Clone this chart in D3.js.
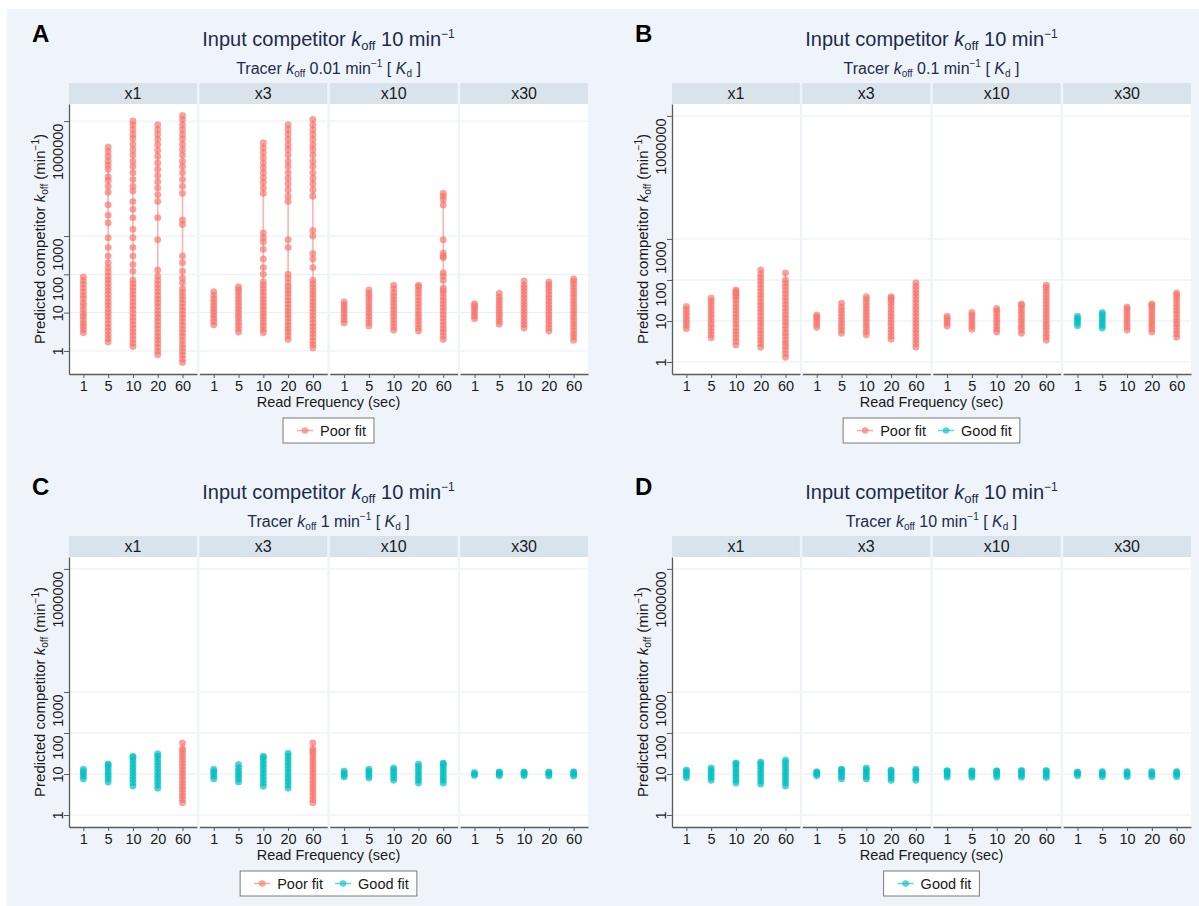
<!DOCTYPE html>
<html>
<head>
<meta charset="utf-8">
<script src="https://cdn.jsdelivr.net/npm/d3@7"></script>
<style>
  body { margin: 0; background: #ffffff; }
  text { font-family: "Liberation Sans", Arial, Helvetica, sans-serif; }
</style>
</head>
<body>
<svg id="fig" width="1199" height="906"></svg>
<script>
// ---- categories and labels ----
const freqs = ["1", "5", "10", "20", "60"];
const facets = ["x1", "x3", "x10", "x30"];
const yTickValues = [1, 10, 100, 1000, 1000000];
const fitLabels = ["Poor fit", "Good fit"];
const fitColors = ["#f8766d", "#00bfc4"];
const panelLetters = ["A", "B", "C", "D"];
const tracerKoff = ["0.01", "0.1", "1", "10"];
const inputKoff = "10";

// ---- predicted competitor koff (min^-1), one array per read frequency ----
// Panel A: tracer koff 0.01
const A_x1 = [
  [3.0, 3.6, 4.4, 5.3, 6.5, 8.0, 9.6, 12, 15, 18, 23, 28, 35, 44, 55, 68, 85],
  [1.7, 2.1, 2.6, 3.3, 4.1, 5.1, 6.4, 8, 10, 12.5, 15.5, 19, 24, 30, 37, 46, 58, 72, 90, 115, 150, 200, 300, 500, 900, 2200, 3500, 6500, 14000, 20000, 28000, 35000, 55000, 70000, 90000, 120000, 160000, 210000],
  [1.3, 1.6, 2.0, 2.5, 3.1, 3.9, 4.9, 6.1, 7.6, 9.5, 12, 15, 19, 24, 30, 37, 46, 57, 71, 120, 180, 300, 500, 900, 1500, 3000, 5000, 8000, 15000, 20000, 30000, 45000, 65000, 90000, 130000, 180000, 250000, 350000, 450000, 600000, 800000, 1000000],
  [0.8, 1.0, 1.25, 1.55, 1.95, 2.4, 3.0, 3.8, 4.7, 5.9, 7.4, 9.2, 11.5, 14.5, 18, 22.5, 28, 35, 44, 55, 70, 90, 130, 800, 3000, 8000, 12000, 18000, 26000, 38000, 55000, 80000, 120000, 170000, 240000, 330000, 450000, 600000, 800000],
  [0.5, 0.62, 0.78, 0.97, 1.2, 1.5, 1.9, 2.4, 3.0, 3.7, 4.6, 5.8, 7.2, 9, 11.3, 14, 17.5, 22, 27, 34, 42, 60, 80, 120, 200, 300, 2000, 2600, 13000, 20000, 30000, 45000, 65000, 90000, 130000, 180000, 250000, 340000, 450000, 600000, 800000, 1100000, 1400000]
];
const A_x3 = [
  [4.8, 5.8, 7.0, 8.5, 10.3, 12.5, 15, 18.5, 22.5, 28, 35],
  [3.1, 3.8, 4.6, 5.6, 6.8, 8.3, 10, 12.3, 15, 18.5, 22.5, 27.5, 33.5, 40, 47],
  [3.0, 3.7, 4.5, 5.5, 6.7, 8.2, 10, 12.3, 15, 18.5, 22.5, 27.5, 34, 42, 52, 64, 100, 150, 250, 450, 700, 900, 1200, 13000, 18000, 25000, 33000, 45000, 60000, 80000, 110000, 150000, 200000, 270000],
  [2.0, 2.5, 3.1, 3.8, 4.7, 5.8, 7.2, 8.9, 11, 13.6, 16.8, 20.8, 25.7, 32, 39, 48, 60, 80, 100, 500, 800, 8000, 11000, 16000, 23000, 32000, 45000, 65000, 90000, 130000, 180000, 240000, 330000, 450000, 600000, 800000],
  [1.2, 1.5, 1.85, 2.3, 2.85, 3.5, 4.35, 5.4, 6.7, 8.3, 10.3, 12.8, 15.8, 19.6, 24.3, 30, 37, 46, 57, 70, 150, 250, 350, 1000, 1400, 11000, 16000, 23000, 32000, 45000, 65000, 90000, 130000, 180000, 240000, 330000, 450000, 600000, 800000, 1100000]
];
const A_x10 = [
  [5.4, 6.5, 7.8, 9.4, 11.3, 13.5, 16, 19],
  [4.5, 5.5, 6.7, 8.2, 10, 12.2, 14.9, 18.2, 22.2, 27, 32, 39],
  [3.5, 4.3, 5.3, 6.5, 8, 9.8, 12, 14.7, 18, 22, 27, 33, 42, 52],
  [3.3, 4.0, 4.9, 6.0, 7.4, 9.1, 11.2, 13.8, 17, 20.8, 25.6, 31.5, 38.7, 47, 52],
  [2.0, 2.5, 3.1, 3.8, 4.7, 5.8, 7.2, 8.9, 11, 13.6, 16.8, 20.8, 25.7, 32, 38, 44, 70, 90, 110, 270, 300, 360, 800, 6500, 9000, 11000, 13000]
];
const A_x30 = [
  [6.9, 8.1, 9.5, 11.2, 13.2, 15, 17],
  [5.0, 6.0, 7.2, 8.6, 10.3, 12.4, 14.8, 17.8, 21.3, 25.6, 32],
  [4.0, 4.9, 6.0, 7.3, 8.9, 10.9, 13.3, 16.2, 19.8, 24.2, 29.5, 36, 44, 52, 67],
  [3.3, 4.0, 4.9, 6.0, 7.3, 8.9, 10.9, 13.3, 16.2, 19.8, 24.2, 29.5, 36, 44, 53, 63],
  [1.9, 2.3, 2.8, 3.4, 4.2, 5.1, 6.2, 7.6, 9.3, 11.3, 13.8, 16.8, 20.5, 25, 30.5, 37, 45, 55, 66, 76]
];
const A_fit = [[0,0,0,0,0],[0,0,0,0,0],[0,0,0,0,0],[0,0,0,0,0]];

// Panel B: tracer koff 0.1
const B_x1 = [
  [6.5, 7.8, 9.3, 11.1, 13.3, 15.9, 19, 22.5],
  [3.9, 4.7, 5.7, 6.9, 8.3, 10, 12.1, 14.6, 17.6, 21.2, 25.6, 30.8, 36],
  [2.6, 3.2, 3.9, 4.7, 5.7, 6.9, 8.4, 10.2, 12.4, 15, 18.2, 22, 26.7, 32, 38, 42, 47, 52, 57],
  [2.3, 2.8, 3.4, 4.1, 5.0, 6.1, 7.4, 9.0, 10.9, 13.3, 16.2, 19.7, 24, 29, 35.5, 43, 52, 64, 78, 95, 115, 140, 175],
  [1.3, 1.6, 1.95, 2.4, 2.9, 3.5, 4.3, 5.2, 6.4, 7.8, 9.5, 11.6, 14.1, 17.2, 21, 25.6, 31, 38, 46, 56, 68, 83, 100, 148]
];
const B_x3 = [
  [7.0, 8.2, 9.6, 11.2, 12.5, 14],
  [5.0, 6.0, 7.2, 8.7, 10.4, 12.5, 15, 18, 21.6, 27],
  [4.6, 5.5, 6.6, 7.9, 9.5, 11.4, 13.7, 16.4, 19.7, 23.6, 28.3, 34, 39],
  [3.6, 4.3, 5.2, 6.2, 7.5, 9.0, 10.8, 13, 15.6, 18.7, 22.4, 27, 32, 36, 39],
  [2.3, 2.8, 3.4, 4.1, 5.0, 6.0, 7.3, 8.8, 10.6, 12.8, 15.5, 18.7, 22.6, 27.3, 33, 40, 48, 58, 70, 85]
];
const B_x10 = [
  [7.6, 8.8, 10.2, 11.7, 13],
  [6.3, 7.4, 8.7, 10.2, 12, 14, 16],
  [5.4, 6.4, 7.6, 9, 10.7, 12.7, 15, 17.7, 20],
  [5.0, 6.0, 7.1, 8.5, 10.1, 12, 14.3, 17, 20.2, 24, 26],
  [3.4, 4.1, 4.9, 5.9, 7.1, 8.5, 10.2, 12.3, 14.8, 17.8, 21.4, 25.7, 31, 37, 45, 54, 65, 75]
];
const B_x30 = [
  [7.7, 8.9, 10.2, 11.6, 13],
  [6.7, 7.8, 9.1, 10.6, 12.3, 14.3, 16],
  [6.0, 7.1, 8.4, 10, 11.8, 14, 16.6, 19.6, 22],
  [5.4, 6.4, 7.6, 9, 10.7, 12.7, 15.1, 17.9, 21.3, 24, 26],
  [4.0, 4.8, 5.8, 7.0, 8.4, 10.1, 12.2, 14.7, 17.7, 21.3, 25.6, 31, 37, 43, 48]
];
const B_fit = [[0,0,0,0,0],[0,0,0,0,0],[0,0,0,0,0],[1,1,0,0,0]];

// Panel C: tracer koff 1
const C_x1 = [
  [7.6, 8.8, 10.1, 11.5, 13],
  [6.4, 7.5, 8.8, 10.3, 12, 14.1, 16.5, 17.5],
  [5.1, 6.1, 7.3, 8.7, 10.4, 12.4, 14.8, 17.7, 21.1, 25, 27],
  [4.5, 5.4, 6.5, 7.8, 9.3, 11.2, 13.4, 16, 19.2, 23, 27.5, 31],
  [2.0, 2.4, 2.9, 3.5, 4.2, 5.0, 6.0, 7.2, 8.7, 10.4, 12.5, 15, 18, 21.6, 26, 31, 37, 41, 57]
];
const C_x3 = [
  [7.6, 8.8, 10.1, 11.5, 13],
  [6.4, 7.5, 8.8, 10.3, 12, 14.1, 17],
  [5.0, 6.0, 7.2, 8.6, 10.3, 12.3, 14.7, 17.6, 21, 25, 27],
  [4.5, 5.4, 6.5, 7.8, 9.3, 11.2, 13.4, 16, 19.2, 23, 27.5, 32],
  [2.0, 2.4, 2.9, 3.5, 4.2, 5.0, 6.0, 7.2, 8.7, 10.4, 12.5, 15, 18, 21.6, 26, 31, 36, 41, 57]
];
const C_x10 = [
  [8.5, 9.5, 10.6, 11.8],
  [8.0, 9.1, 10.4, 11.8, 13],
  [7.0, 8.1, 9.4, 10.9, 12.6, 14],
  [6.0, 7.0, 8.2, 9.6, 11.2, 13.1, 15.3, 17.5],
  [6.0, 7.0, 8.2, 9.6, 11.2, 13.1, 15.3, 17.5, 18.5]
];
const C_x30 = [
  [9.2, 10, 10.9],
  [9, 9.9, 10.9, 11.2],
  [9, 9.9, 10.9, 11.2],
  [8.9, 9.8, 10.8, 11.2],
  [8.9, 9.8, 10.8, 11.3]
];
const C_fit = [[1,1,1,1,0],[1,1,1,1,0],[1,1,1,1,1],[1,1,1,1,1]];

// Panel D: tracer koff 10
const D_x1 = [
  [8.1, 9.2, 10.4, 11.6, 12.5],
  [7.0, 8.1, 9.4, 10.9, 12.6, 14],
  [6.0, 7.0, 8.2, 9.6, 11.2, 13.1, 15.3, 17.8, 18.5],
  [5.7, 6.7, 7.9, 9.3, 10.9, 12.8, 15, 17.6, 19.5],
  [5.1, 6.0, 7.1, 8.4, 9.9, 11.7, 13.8, 16.3, 19.2, 22]
];
const D_x3 = [
  [9, 9.9, 10.9, 11.3],
  [7.6, 8.6, 9.8, 11.1, 12.6, 13],
  [7.6, 8.6, 9.8, 11.1, 12.6, 14],
  [7.0, 8.0, 9.1, 10.4, 11.8, 12.5],
  [7.0, 8.0, 9.2, 10.5, 12, 13]
];
const D_x10 = [
  [8.3, 9.3, 10.5, 11.8, 12],
  [8.3, 9.3, 10.4, 11.7, 12],
  [8.3, 9.4, 10.5, 11.7, 12],
  [8.3, 9.3, 10.5, 11.8, 12.2],
  [8.2, 9.2, 10.4, 11.7, 12.1]
];
const D_x30 = [
  [9, 9.9, 10.9, 11.2],
  [8.6, 9.6, 10.7, 11.5],
  [8.6, 9.6, 10.7, 11.5],
  [8.6, 9.6, 10.7, 11.5],
  [8.6, 9.6, 10.7, 11.5]
];
const D_fit = [[1,1,1,1,1],[1,1,1,1,1],[1,1,1,1,1],[1,1,1,1,1]];

// ---- panel set-up ----
const panels = [
  { letter: panelLetters[0], tracer: tracerKoff[0], dx: 0,   dy: 0,   yDomain: [0.25, 2.8e6],  cols: [A_x1, A_x3, A_x10, A_x30], fit: A_fit, legend: [0] },
  { letter: panelLetters[1], tracer: tracerKoff[1], dx: 603, dy: 0,   yDomain: [0.51, 1.95e6], cols: [B_x1, B_x3, B_x10, B_x30], fit: B_fit, legend: [0, 1] },
  { letter: panelLetters[2], tracer: tracerKoff[2], dx: 0,   dy: 453, yDomain: [0.51, 1.95e6], cols: [C_x1, C_x3, C_x10, C_x30], fit: C_fit, legend: [0, 1] },
  { letter: panelLetters[3], tracer: tracerKoff[3], dx: 603, dy: 453, yDomain: [0.51, 1.95e6], cols: [D_x1, D_x3, D_x10, D_x30], fit: D_fit, legend: [1] }
];

const L = { left: 69, right: 588, top: 104, bottom: 374, stripTop: 83, gap: 2.5 };
const facetW = (L.right - L.left - 3 * L.gap) / 4;
const midX = (L.left + L.right) / 2;
const axisColor = "#5b5b5b";
const textColor = "#1a1a1a";
const titleColor = "#1d2b4c";

const svg = d3.select("#fig");

// figure background
svg.append("rect").attr("x", 7).attr("y", 9).attr("width", 1192).attr("height", 897).attr("fill", "#eef4f9");

const xScale = d3.scalePoint().domain(freqs).range([0, facetW]).padding(0.58);

panels.forEach(p => {
  const g = svg.append("g").attr("transform", `translate(${p.dx},${p.dy})`);
  const y = d3.scaleLog().domain(p.yDomain).range([L.bottom, L.top]);

  // panel letter
  g.append("text").attr("x", 32).attr("y", 42)
    .attr("font-size", 24).attr("font-weight", "bold").attr("fill", "#000")
    .text(p.letter);

  // title
  const t = g.append("text").attr("x", midX).attr("y", 46).attr("text-anchor", "middle")
    .attr("font-size", 20).attr("fill", titleColor);
  t.append("tspan").text("Input competitor ");
  t.append("tspan").attr("font-style", "italic").text("k");
  t.append("tspan").attr("font-size", 13).attr("dy", 4).text("off");
  t.append("tspan").attr("dy", -4).text(" " + inputKoff + " min");
  t.append("tspan").attr("font-size", 12).attr("dy", -8).text("\u22121");

  // subtitle
  const s = g.append("text").attr("x", midX).attr("y", 74).attr("text-anchor", "middle")
    .attr("font-size", 16).attr("fill", titleColor);
  s.append("tspan").text("Tracer ");
  s.append("tspan").attr("font-style", "italic").text("k");
  s.append("tspan").attr("font-size", 10).attr("dy", 3).text("off");
  s.append("tspan").attr("dy", -3).text(" " + p.tracer + " min");
  s.append("tspan").attr("font-size", 10).attr("dy", -7).text("\u22121");
  s.append("tspan").attr("dy", 7).text(" [ ");
  s.append("tspan").attr("font-style", "italic").text("K");
  s.append("tspan").attr("font-size", 10).attr("dy", 3).text("d");
  s.append("tspan").attr("dy", -3).text(" ]");

  facets.forEach((f, i) => {
    const fx = L.left + i * (facetW + L.gap);
    const fg = g.append("g").attr("transform", `translate(${fx},0)`);

    // strip
    fg.append("rect").attr("x", 0).attr("y", L.stripTop).attr("width", facetW)
      .attr("height", L.top - L.stripTop).attr("fill", "#d9e3eb");
    fg.append("text").attr("x", facetW / 2).attr("y", L.top - 5).attr("text-anchor", "middle")
      .attr("font-size", 16).attr("fill", textColor).text(f);

    // plot region
    fg.append("rect").attr("x", 0).attr("y", L.top).attr("width", facetW)
      .attr("height", L.bottom - L.top).attr("fill", "#ffffff");

    // grid lines
    fg.selectAll("line.grid").data(yTickValues).join("line").attr("class", "grid")
      .attr("x1", 0).attr("x2", facetW)
      .attr("y1", d => y(d)).attr("y2", d => y(d))
      .attr("stroke", "#e6eef5").attr("stroke-width", 1);

    // columns of estimates
    freqs.forEach((fr, j) => {
      const vals = p.cols[i][j].slice().sort((a, b) => a - b);
      const col = fitColors[p.fit[i][j]];
      const cx = xScale(fr);
      fg.append("path")
        .attr("d", d3.line().x(() => cx).y(d => y(d))(vals))
        .attr("fill", "none").attr("stroke", col).attr("stroke-width", 1.6).attr("stroke-opacity", 0.55);
      fg.selectAll(null).data(vals).join("circle")
        .attr("cx", cx).attr("cy", d => y(d)).attr("r", 3.3)
        .attr("fill", col).attr("fill-opacity", 0.68)
        .attr("stroke", col).attr("stroke-opacity", 0.3).attr("stroke-width", 0.6);
    });

    // x axis
    const xa = fg.append("g").attr("transform", `translate(0,${L.bottom})`)
      .call(d3.axisBottom(xScale).tickSize(4).tickSizeOuter(0));
    xa.select(".domain").attr("stroke", axisColor).attr("stroke-width", 1.3);
    xa.selectAll(".tick line").attr("stroke", axisColor);
    xa.selectAll(".tick text").attr("font-size", 14.5).attr("fill", textColor)
      .attr("font-family", "Liberation Sans, Arial, sans-serif");
  });

  // y axis
  const ya = g.append("g").attr("transform", `translate(${L.left},0)`)
    .call(d3.axisLeft(y).tickValues(yTickValues).tickFormat(d3.format("d")).tickSize(5).tickSizeOuter(0));
  ya.select(".domain").attr("stroke", axisColor).attr("stroke-width", 1.3);
  ya.selectAll(".tick line").attr("stroke", axisColor);
  ya.selectAll(".tick text")
    .attr("font-size", 14.5).attr("fill", textColor)
    .attr("font-family", "Liberation Sans, Arial, sans-serif")
    .attr("x", d => d >= 100 ? -2 : 0).attr("y", null).attr("dy", null)
    .attr("text-anchor", d => d >= 100 ? "end" : "middle")
    .attr("transform", "translate(-6,0) rotate(-90)");

  // y title
  const yt = g.append("text").attr("transform", `translate(45,${(L.top + L.bottom) / 2}) rotate(-90)`)
    .attr("text-anchor", "middle").attr("font-size", 15).attr("fill", textColor);
  yt.append("tspan").text("Predicted competitor ");
  yt.append("tspan").attr("font-style", "italic").text("k");
  yt.append("tspan").attr("font-size", 10).attr("dy", 3).text("off");
  yt.append("tspan").attr("dy", -3).text(" (min");
  yt.append("tspan").attr("font-size", 10).attr("dy", -6).text("\u22121");
  yt.append("tspan").attr("dy", 6).text(")");

  // x title
  g.append("text").attr("x", midX).attr("y", 407).attr("text-anchor", "middle")
    .attr("font-size", 14.5).attr("fill", textColor).text("Read Frequency (sec)");

  // legend
  const lg = g.append("g");
  const box = lg.append("rect").attr("y", 418).attr("height", 25)
    .attr("fill", "#ffffff").attr("stroke", "#7a7a7a").attr("stroke-width", 1);
  let cursor = 14;
  p.legend.forEach((k, n) => {
    if (n > 0) cursor += 12;
    const c = fitColors[k];
    lg.append("line").attr("x1", cursor).attr("x2", cursor + 16).attr("y1", 430.5).attr("y2", 430.5)
      .attr("stroke", c).attr("stroke-width", 1.6).attr("stroke-opacity", 0.6);
    lg.append("circle").attr("cx", cursor + 8).attr("cy", 430.5).attr("r", 3)
      .attr("fill", c).attr("fill-opacity", 0.6).attr("stroke", c).attr("stroke-opacity", 0.4);
    cursor += 23;
    const tx = lg.append("text").attr("x", cursor).attr("y", 435.5).attr("font-size", 14.5)
      .attr("fill", textColor).text(fitLabels[k]);
    cursor += tx.node().getComputedTextLength();
  });
  cursor += 8;
  const bx = midX - cursor / 2;
  box.attr("x", 0).attr("width", cursor);
  lg.attr("transform", `translate(${bx},0)`);
});
</script>
</body>
</html>
